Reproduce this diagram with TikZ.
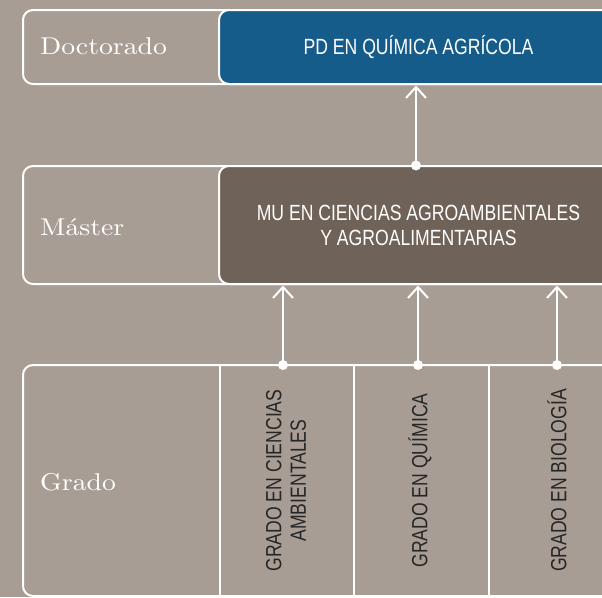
\documentclass[tikz,border=0pt]{standalone}
\usepackage{fontspec}
\usetikzlibrary{arrows.meta}
\newfontfamily\condsans[FakeStretch=0.80]{Liberation Sans}
\newfontfamily\serifw[Extension=.otf,FakeStretch=1.14]{lmroman10-regular}
\definecolor{bgc}{HTML}{A89D95}
\definecolor{bluec}{HTML}{165C8B}
\definecolor{brownc}{HTML}{6F6259}
\definecolor{darktext}{HTML}{262626}
\begin{document}
\begin{tikzpicture}[x=1pt,y=-1pt,
  outerbox/.style={draw=white, line width=2pt, rounded corners=10pt, anchor=north west, inner sep=0pt, outer sep=0pt},
  innerbox/.style={outerbox, text=white, font=\condsans\fontsize{22}{25}\selectfont, align=center},
  colbox/.style={draw=white, line width=2pt, anchor=north west, inner sep=0pt, outer sep=0pt},
  level/.style={anchor=base west, text=white, font=\serifw\fontsize{24.3}{29}\selectfont, inner sep=0pt},
  vtext/.style={rotate=90, text=darktext, font=\condsans\fontsize{22}{24.5}\selectfont, align=center, inner sep=0pt},
  arr/.style={draw=white, line width=2pt, -{Straight Barb[length=11pt,width=20pt]}, shorten >=1.5pt},
  dot/.style={circle, fill=white, minimum size=10pt, inner sep=0pt}
]
\fill[bgc] (0,0) rectangle (602,597);
\useasboundingbox (0,0) rectangle (602,597);

% Doctorado
\node[outerbox, minimum width=700pt, minimum height=74pt] (docbox) at (23,10) {};
\node[innerbox, fill=bluec, minimum width=399pt, minimum height=74pt] (pd) at (219,10) {PD EN QUÍMICA AGRÍCOLA};
\node[level] (doclab) at (40,54.5) {Doctorado};

% Master
\node[outerbox, minimum width=700pt, minimum height=118pt] (masbox) at (23,166) {};
\node[innerbox, fill=brownc, minimum width=399pt, minimum height=118pt] (mu) at (219,166) {MU EN CIENCIAS AGROAMBIENTALES\\Y AGROALIMENTARIAS};
\node[level] (maslab) at (40,235) {Máster};

% Grado
\node[outerbox, minimum width=700pt, minimum height=231pt] (grabox) at (23,365) {};
\node[colbox, minimum width=134pt, minimum height=231pt] (c1) at (220,365) {};
\node[colbox, minimum width=135pt, minimum height=231pt] (c2) at (354,365) {};
\node[colbox, minimum width=136pt, minimum height=231pt] (c3) at (489,365) {};
\node[level] (gralab) at (40,490) {Grado};
\node[vtext] (t1) at ([xshift=-1pt]c1.center) {GRADO EN CIENCIAS\\AMBIENTALES};
\node[vtext] (t2) at ([xshift=-1.5pt]c2.center) {GRADO EN QUÍMICA};
\node[vtext] (t3) at (c3.center) {GRADO EN BIOLOGÍA};

% dots and arrows
\node[dot] (m1) at (416,165.5) {};
\node[dot] (g1) at (283,365) {};
\node[dot] (g2) at (418,365) {};
\node[dot] (g3) at (557,365) {};
\draw[arr] (m1.center) -- (m1 |- pd.south);
\draw[arr] (g1.center) -- (g1 |- mu.south);
\draw[arr] (g2.center) -- (g2 |- mu.south);
\draw[arr] (g3.center) -- (g3 |- mu.south);
\end{tikzpicture}
\end{document}
